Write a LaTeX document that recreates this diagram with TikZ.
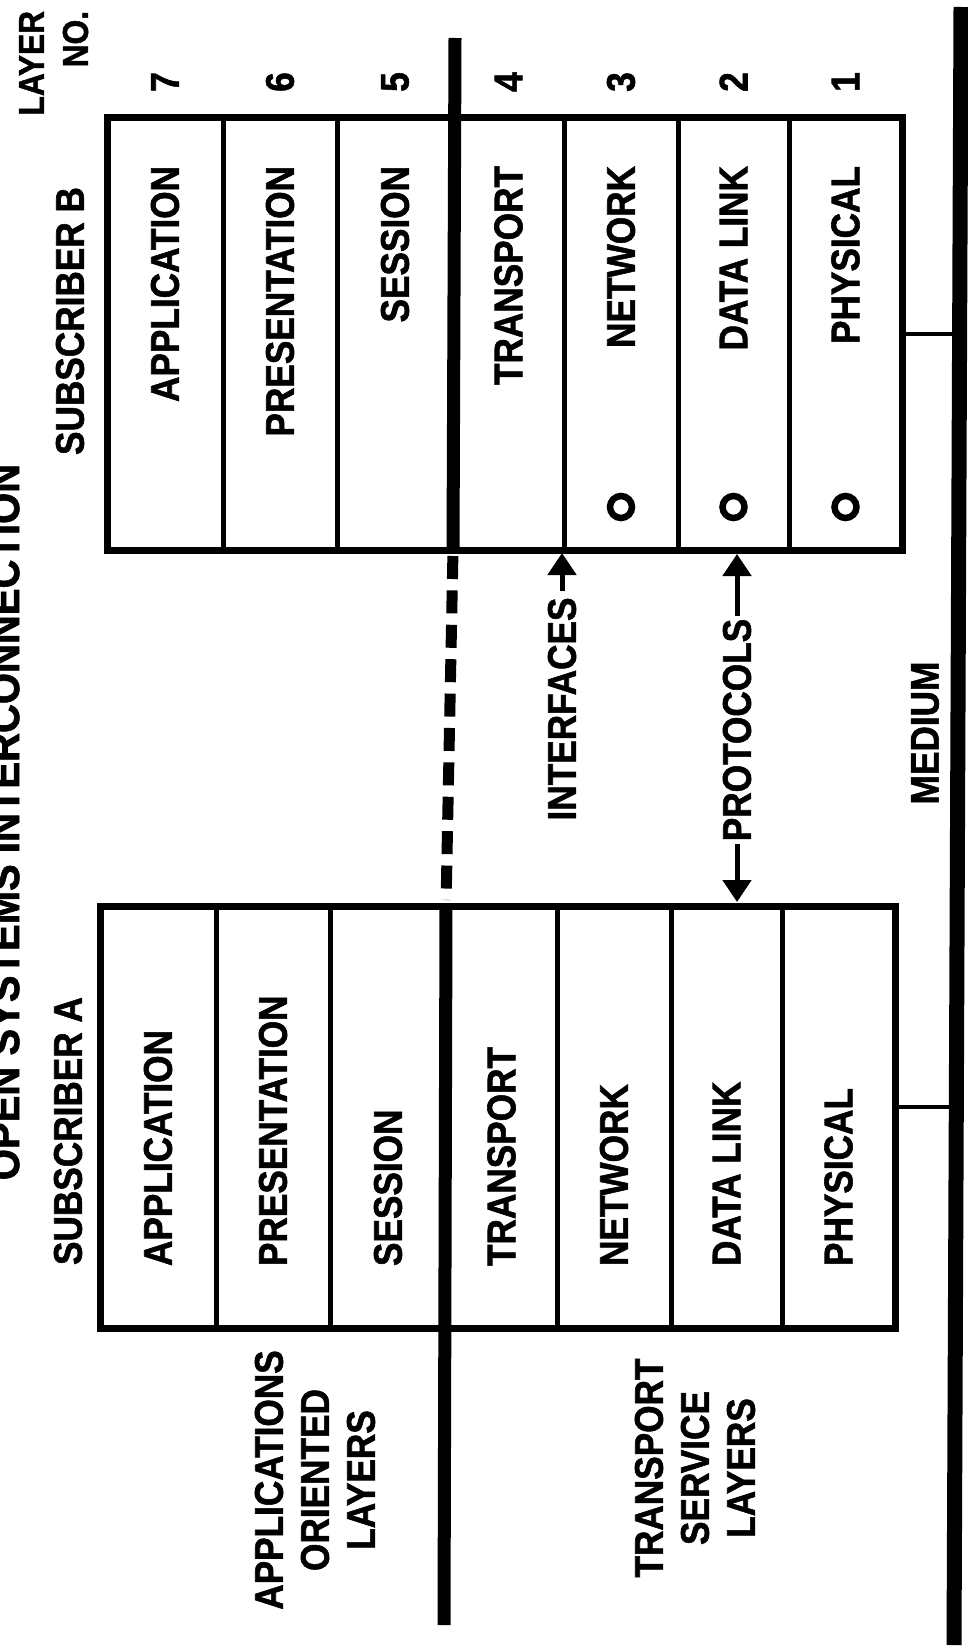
\documentclass[tikz,border=0pt]{standalone}
\usepackage{fontspec}
\setmainfont{Liberation Sans}[BoldFeatures={FakeBold=1.5}]
\usetikzlibrary{arrows.meta}
\begin{document}
\begin{tikzpicture}[x=1pt,y=-1pt,
  every node/.style={inner sep=0pt, outer sep=0pt},
  lbl/.style={font=\fontsize{40}{46}\selectfont\bfseries, rotate=90, xscale=0.88, align=center},
  ttl/.style={font=\fontsize{44}{50}\selectfont\bfseries, rotate=90, xscale=0.91},
  colbox/.style={draw=black, line width=5pt, rectangle},
  frame/.style={line width=7pt},
  heavy/.style={line width=13pt},
  arr/.style={line width=5pt, -{Triangle[length=22pt,width=28pt]}},
  conn/.style={line width=4pt},
  ring/.style={circle, draw=black, line width=6.5pt, minimum size=22pt},
]
\useasboundingbox (0,0) rectangle (968,1648);
\clip (0,0) rectangle (968,1648);

% Subscriber B stack
\foreach \n/\c/\w/\t/\k in {app/165/116/APPLICATION/7, pre/280/114/PRESENTATION/6, ses/395/116/SESSION/5, tra/508.5/111/TRANSPORT/4, net/621/114/NETWORK/3, dl/733.5/111/DATA LINK/2, phy/845.5/113/PHYSICAL/1}{
  \node[colbox, minimum width=\w pt, minimum height=432pt] (b\n) at (\c,334) {};
  \node[lbl, anchor=east] (bt\n) at (\c,166) {\t};
  \node[lbl] (num\k) at (\c,82) {\k};
}
% Subscriber A stack
\foreach \n/\c/\w/\t in {app/158/116/APPLICATION, pre/273/114/PRESENTATION, ses/388/116/SESSION, tra/501.5/111/TRANSPORT, net/614/114/NETWORK, dl/726.5/111/DATA LINK, phy/838.5/113/PHYSICAL}{
  \node[colbox, minimum width=\w pt, minimum height=422pt] (a\n) at (\c,1117) {};
  \node[lbl, anchor=west] (at\n) at (\c,1266) {\t};
}
\draw[frame] (bapp.north west) rectangle (bphy.south east);
\draw[frame] (aapp.north west) rectangle (aphy.south east);

% rings in subscriber B
\foreach \n in {net,dl,phy}{
  \node[ring] (o\n) at ([yshift=-173pt]b\n.center) {};
}

% heavy divider between application and transport layers
\coordinate (ltop) at (455,38);
\coordinate (lbot) at (444,1625);
\draw[heavy] (ltop) -- (bses.south east);
\draw[heavy, line width=11pt, dash pattern=on 23pt off 11.4pt, shorten <=6pt, shorten >=6pt] (bses.south east) -- (ases.north east);
\draw[heavy] (ases.north east) -- (lbot);

% medium
\coordinate (mtop) at (961,7);
\coordinate (mbot) at (954,1645);
\draw[line width=15pt] (mtop) -- (mbot);
\coordinate (bmed) at (953,334);
\draw[conn] (bphy.east) -- (bmed);
\coordinate (acon) at ([yshift=10pt]aphy.east);
\coordinate (amed) at (950,1107);
\draw[conn] (acon) -- (amed);

% interfaces and protocols
\node[lbl] (ifc) at (562,709) {INTERFACES};
\draw[arr, shorten <=7pt, shorten >=3pt] (ifc.east) -- (ifc.east |- bnet.south);
\node[lbl] (prot) at (737,730) {PROTOCOLS};
\draw[arr, shorten <=3pt, shorten >=4pt] (prot.east) -- (prot.east |- bdl.south);
\draw[arr, shorten <=3pt, shorten >=4pt] (prot.west) -- (prot.west |- adl.north);

% labels
\node[lbl] (medl) at (925,733) {MEDIUM};
\node[lbl] (subb) at (70,321) {SUBSCRIBER B};
\node[lbl] (suba) at (68,1131) {SUBSCRIBER A};
\node[lbl] (aol) at (315,1480) {APPLICATIONS\\ORIENTED\\LAYERS};
\node[lbl] (tsl) at (695,1468) {TRANSPORT\\SERVICE\\LAYERS};
\node[lbl, font=\fontsize{36}{44}\selectfont\bfseries, anchor=east] (layer) at (31.5,11) {LAYER};
\node[lbl, font=\fontsize{36}{44}\selectfont\bfseries, anchor=east] (layno) at (75.5,11) {NO.};
\node[ttl, anchor=base] (title) at (19,822) {OPEN SYSTEMS INTERCONNECTION};
\end{tikzpicture}
\end{document}
